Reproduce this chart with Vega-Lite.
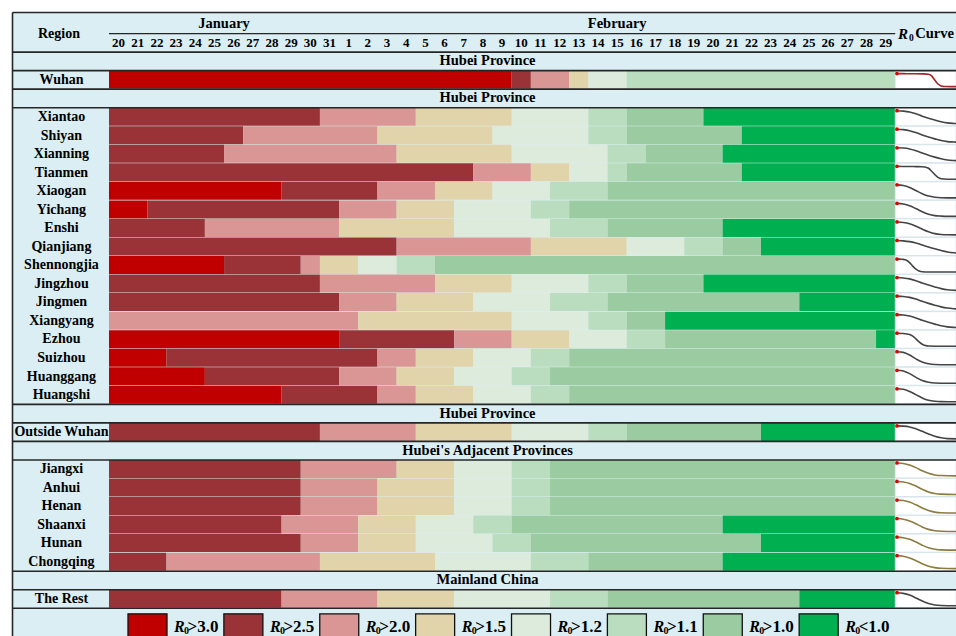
{
  "$schema": "https://vega.github.io/schema/vega-lite/v6.json",
  "width": 944,
  "height": 624,
  "autosize": {"type": "none"},
  "padding": {"left": 12, "top": 12, "right": 0, "bottom": 0},
  "background": "white",
  "config": {
    "view": {"stroke": null, "fill": "#DAEEF3"},
    "axis": {"grid": false, "labels": false, "ticks": false, "domainColor": "#262626", "domainWidth": 1.6},
    "text": {"font": "Liberation Serif", "fontWeight": "bold", "fontSize": 14, "color": "#000000"}
  },
  "datasets": {
    "regions": [
      {"row": "Wuhan", "group": "Wuhan"},
      {"row": "Xiantao", "group": "Hubei"},
      {"row": "Shiyan", "group": "Hubei"},
      {"row": "Xianning", "group": "Hubei"},
      {"row": "Tianmen", "group": "Hubei"},
      {"row": "Xiaogan", "group": "Hubei"},
      {"row": "Yichang", "group": "Hubei"},
      {"row": "Enshi", "group": "Hubei"},
      {"row": "Qianjiang", "group": "Hubei"},
      {"row": "Shennongjia", "group": "Hubei"},
      {"row": "Jingzhou", "group": "Hubei"},
      {"row": "Jingmen", "group": "Hubei"},
      {"row": "Xiangyang", "group": "Hubei"},
      {"row": "Ezhou", "group": "Hubei"},
      {"row": "Suizhou", "group": "Hubei"},
      {"row": "Huanggang", "group": "Hubei"},
      {"row": "Huangshi", "group": "Hubei"},
      {"row": "Outside Wuhan", "group": "Hubei"},
      {"row": "Jiangxi", "group": "Adjacent"},
      {"row": "Anhui", "group": "Adjacent"},
      {"row": "Henan", "group": "Adjacent"},
      {"row": "Shaanxi", "group": "Adjacent"},
      {"row": "Hunan", "group": "Adjacent"},
      {"row": "Chongqing", "group": "Adjacent"},
      {"row": "The Rest", "group": "Mainland"}
    ],
    "sections": [
      {"row": "sec1", "title": "Hubei Province"},
      {"row": "sec2", "title": "Hubei Province"},
      {"row": "sec3", "title": "Hubei Province"},
      {"row": "sec4", "title": "Hubei's Adjacent Provinces"},
      {"row": "sec5", "title": "Mainland China"}
    ],
    "levels": [
      {"level": ">3.0"}, {"level": ">2.5"}, {"level": ">2.0"}, {"level": ">1.5"},
      {"level": ">1.2"}, {"level": ">1.1"}, {"level": ">1.0"}, {"level": "<1.0"}
    ],
    "days": [
      {"day": 0, "label": "20", "month": "January"}, {"day": 1, "label": "21", "month": "January"},
      {"day": 2, "label": "22", "month": "January"}, {"day": 3, "label": "23", "month": "January"},
      {"day": 4, "label": "24", "month": "January"}, {"day": 5, "label": "25", "month": "January"},
      {"day": 6, "label": "26", "month": "January"}, {"day": 7, "label": "27", "month": "January"},
      {"day": 8, "label": "28", "month": "January"}, {"day": 9, "label": "29", "month": "January"},
      {"day": 10, "label": "30", "month": "January"}, {"day": 11, "label": "31", "month": "January"},
      {"day": 12, "label": "1", "month": "February"}, {"day": 13, "label": "2", "month": "February"},
      {"day": 14, "label": "3", "month": "February"}, {"day": 15, "label": "4", "month": "February"},
      {"day": 16, "label": "5", "month": "February"}, {"day": 17, "label": "6", "month": "February"},
      {"day": 18, "label": "7", "month": "February"}, {"day": 19, "label": "8", "month": "February"},
      {"day": 20, "label": "9", "month": "February"}, {"day": 21, "label": "10", "month": "February"},
      {"day": 22, "label": "11", "month": "February"}, {"day": 23, "label": "12", "month": "February"},
      {"day": 24, "label": "13", "month": "February"}, {"day": 25, "label": "14", "month": "February"},
      {"day": 26, "label": "15", "month": "February"}, {"day": 27, "label": "16", "month": "February"},
      {"day": 28, "label": "17", "month": "February"}, {"day": 29, "label": "18", "month": "February"},
      {"day": 30, "label": "19", "month": "February"}, {"day": 31, "label": "20", "month": "February"},
      {"day": 32, "label": "21", "month": "February"}, {"day": 33, "label": "22", "month": "February"},
      {"day": 34, "label": "23", "month": "February"}, {"day": 35, "label": "24", "month": "February"},
      {"day": 36, "label": "25", "month": "February"}, {"day": 37, "label": "26", "month": "February"},
      {"day": 38, "label": "27", "month": "February"}, {"day": 39, "label": "28", "month": "February"},
      {"day": 40, "label": "29", "month": "February"}
    ],
    "cells": [
      {"row": "Wuhan", "start": 0, "end": 21, "level": ">3.0"},
      {"row": "Wuhan", "start": 21, "end": 22, "level": ">2.5"},
      {"row": "Wuhan", "start": 22, "end": 24, "level": ">2.0"},
      {"row": "Wuhan", "start": 24, "end": 25, "level": ">1.5"},
      {"row": "Wuhan", "start": 25, "end": 27, "level": ">1.2"},
      {"row": "Wuhan", "start": 27, "end": 41, "level": ">1.1"},
      {"row": "Xiantao", "start": 0, "end": 11, "level": ">2.5"},
      {"row": "Xiantao", "start": 11, "end": 16, "level": ">2.0"},
      {"row": "Xiantao", "start": 16, "end": 21, "level": ">1.5"},
      {"row": "Xiantao", "start": 21, "end": 25, "level": ">1.2"},
      {"row": "Xiantao", "start": 25, "end": 27, "level": ">1.1"},
      {"row": "Xiantao", "start": 27, "end": 31, "level": ">1.0"},
      {"row": "Xiantao", "start": 31, "end": 41, "level": "<1.0"},
      {"row": "Shiyan", "start": 0, "end": 7, "level": ">2.5"},
      {"row": "Shiyan", "start": 7, "end": 14, "level": ">2.0"},
      {"row": "Shiyan", "start": 14, "end": 20, "level": ">1.5"},
      {"row": "Shiyan", "start": 20, "end": 25, "level": ">1.2"},
      {"row": "Shiyan", "start": 25, "end": 27, "level": ">1.1"},
      {"row": "Shiyan", "start": 27, "end": 33, "level": ">1.0"},
      {"row": "Shiyan", "start": 33, "end": 41, "level": "<1.0"},
      {"row": "Xianning", "start": 0, "end": 6, "level": ">2.5"},
      {"row": "Xianning", "start": 6, "end": 15, "level": ">2.0"},
      {"row": "Xianning", "start": 15, "end": 21, "level": ">1.5"},
      {"row": "Xianning", "start": 21, "end": 26, "level": ">1.2"},
      {"row": "Xianning", "start": 26, "end": 28, "level": ">1.1"},
      {"row": "Xianning", "start": 28, "end": 32, "level": ">1.0"},
      {"row": "Xianning", "start": 32, "end": 41, "level": "<1.0"},
      {"row": "Tianmen", "start": 0, "end": 19, "level": ">2.5"},
      {"row": "Tianmen", "start": 19, "end": 22, "level": ">2.0"},
      {"row": "Tianmen", "start": 22, "end": 24, "level": ">1.5"},
      {"row": "Tianmen", "start": 24, "end": 26, "level": ">1.2"},
      {"row": "Tianmen", "start": 26, "end": 27, "level": ">1.1"},
      {"row": "Tianmen", "start": 27, "end": 33, "level": ">1.0"},
      {"row": "Tianmen", "start": 33, "end": 41, "level": "<1.0"},
      {"row": "Xiaogan", "start": 0, "end": 9, "level": ">3.0"},
      {"row": "Xiaogan", "start": 9, "end": 14, "level": ">2.5"},
      {"row": "Xiaogan", "start": 14, "end": 17, "level": ">2.0"},
      {"row": "Xiaogan", "start": 17, "end": 20, "level": ">1.5"},
      {"row": "Xiaogan", "start": 20, "end": 23, "level": ">1.2"},
      {"row": "Xiaogan", "start": 23, "end": 26, "level": ">1.1"},
      {"row": "Xiaogan", "start": 26, "end": 41, "level": ">1.0"},
      {"row": "Yichang", "start": 0, "end": 2, "level": ">3.0"},
      {"row": "Yichang", "start": 2, "end": 12, "level": ">2.5"},
      {"row": "Yichang", "start": 12, "end": 15, "level": ">2.0"},
      {"row": "Yichang", "start": 15, "end": 18, "level": ">1.5"},
      {"row": "Yichang", "start": 18, "end": 22, "level": ">1.2"},
      {"row": "Yichang", "start": 22, "end": 24, "level": ">1.1"},
      {"row": "Yichang", "start": 24, "end": 41, "level": ">1.0"},
      {"row": "Enshi", "start": 0, "end": 5, "level": ">2.5"},
      {"row": "Enshi", "start": 5, "end": 12, "level": ">2.0"},
      {"row": "Enshi", "start": 12, "end": 18, "level": ">1.5"},
      {"row": "Enshi", "start": 18, "end": 23, "level": ">1.2"},
      {"row": "Enshi", "start": 23, "end": 26, "level": ">1.1"},
      {"row": "Enshi", "start": 26, "end": 32, "level": ">1.0"},
      {"row": "Enshi", "start": 32, "end": 41, "level": "<1.0"},
      {"row": "Qianjiang", "start": 0, "end": 15, "level": ">2.5"},
      {"row": "Qianjiang", "start": 15, "end": 22, "level": ">2.0"},
      {"row": "Qianjiang", "start": 22, "end": 27, "level": ">1.5"},
      {"row": "Qianjiang", "start": 27, "end": 30, "level": ">1.2"},
      {"row": "Qianjiang", "start": 30, "end": 32, "level": ">1.1"},
      {"row": "Qianjiang", "start": 32, "end": 34, "level": ">1.0"},
      {"row": "Qianjiang", "start": 34, "end": 41, "level": "<1.0"},
      {"row": "Shennongjia", "start": 0, "end": 6, "level": ">3.0"},
      {"row": "Shennongjia", "start": 6, "end": 10, "level": ">2.5"},
      {"row": "Shennongjia", "start": 10, "end": 11, "level": ">2.0"},
      {"row": "Shennongjia", "start": 11, "end": 13, "level": ">1.5"},
      {"row": "Shennongjia", "start": 13, "end": 15, "level": ">1.2"},
      {"row": "Shennongjia", "start": 15, "end": 17, "level": ">1.1"},
      {"row": "Shennongjia", "start": 17, "end": 41, "level": ">1.0"},
      {"row": "Jingzhou", "start": 0, "end": 11, "level": ">2.5"},
      {"row": "Jingzhou", "start": 11, "end": 17, "level": ">2.0"},
      {"row": "Jingzhou", "start": 17, "end": 21, "level": ">1.5"},
      {"row": "Jingzhou", "start": 21, "end": 25, "level": ">1.2"},
      {"row": "Jingzhou", "start": 25, "end": 27, "level": ">1.1"},
      {"row": "Jingzhou", "start": 27, "end": 31, "level": ">1.0"},
      {"row": "Jingzhou", "start": 31, "end": 41, "level": "<1.0"},
      {"row": "Jingmen", "start": 0, "end": 12, "level": ">2.5"},
      {"row": "Jingmen", "start": 12, "end": 15, "level": ">2.0"},
      {"row": "Jingmen", "start": 15, "end": 19, "level": ">1.5"},
      {"row": "Jingmen", "start": 19, "end": 23, "level": ">1.2"},
      {"row": "Jingmen", "start": 23, "end": 26, "level": ">1.1"},
      {"row": "Jingmen", "start": 26, "end": 36, "level": ">1.0"},
      {"row": "Jingmen", "start": 36, "end": 41, "level": "<1.0"},
      {"row": "Xiangyang", "start": 0, "end": 13, "level": ">2.0"},
      {"row": "Xiangyang", "start": 13, "end": 21, "level": ">1.5"},
      {"row": "Xiangyang", "start": 21, "end": 25, "level": ">1.2"},
      {"row": "Xiangyang", "start": 25, "end": 27, "level": ">1.1"},
      {"row": "Xiangyang", "start": 27, "end": 29, "level": ">1.0"},
      {"row": "Xiangyang", "start": 29, "end": 41, "level": "<1.0"},
      {"row": "Ezhou", "start": 0, "end": 12, "level": ">3.0"},
      {"row": "Ezhou", "start": 12, "end": 18, "level": ">2.5"},
      {"row": "Ezhou", "start": 18, "end": 21, "level": ">2.0"},
      {"row": "Ezhou", "start": 21, "end": 24, "level": ">1.5"},
      {"row": "Ezhou", "start": 24, "end": 27, "level": ">1.2"},
      {"row": "Ezhou", "start": 27, "end": 29, "level": ">1.1"},
      {"row": "Ezhou", "start": 29, "end": 40, "level": ">1.0"},
      {"row": "Ezhou", "start": 40, "end": 41, "level": "<1.0"},
      {"row": "Suizhou", "start": 0, "end": 3, "level": ">3.0"},
      {"row": "Suizhou", "start": 3, "end": 14, "level": ">2.5"},
      {"row": "Suizhou", "start": 14, "end": 16, "level": ">2.0"},
      {"row": "Suizhou", "start": 16, "end": 19, "level": ">1.5"},
      {"row": "Suizhou", "start": 19, "end": 22, "level": ">1.2"},
      {"row": "Suizhou", "start": 22, "end": 24, "level": ">1.1"},
      {"row": "Suizhou", "start": 24, "end": 41, "level": ">1.0"},
      {"row": "Huanggang", "start": 0, "end": 5, "level": ">3.0"},
      {"row": "Huanggang", "start": 5, "end": 12, "level": ">2.5"},
      {"row": "Huanggang", "start": 12, "end": 15, "level": ">2.0"},
      {"row": "Huanggang", "start": 15, "end": 18, "level": ">1.5"},
      {"row": "Huanggang", "start": 18, "end": 21, "level": ">1.2"},
      {"row": "Huanggang", "start": 21, "end": 23, "level": ">1.1"},
      {"row": "Huanggang", "start": 23, "end": 41, "level": ">1.0"},
      {"row": "Huangshi", "start": 0, "end": 9, "level": ">3.0"},
      {"row": "Huangshi", "start": 9, "end": 14, "level": ">2.5"},
      {"row": "Huangshi", "start": 14, "end": 16, "level": ">2.0"},
      {"row": "Huangshi", "start": 16, "end": 19, "level": ">1.5"},
      {"row": "Huangshi", "start": 19, "end": 22, "level": ">1.2"},
      {"row": "Huangshi", "start": 22, "end": 24, "level": ">1.1"},
      {"row": "Huangshi", "start": 24, "end": 41, "level": ">1.0"},
      {"row": "Outside Wuhan", "start": 0, "end": 11, "level": ">2.5"},
      {"row": "Outside Wuhan", "start": 11, "end": 16, "level": ">2.0"},
      {"row": "Outside Wuhan", "start": 16, "end": 21, "level": ">1.5"},
      {"row": "Outside Wuhan", "start": 21, "end": 25, "level": ">1.2"},
      {"row": "Outside Wuhan", "start": 25, "end": 27, "level": ">1.1"},
      {"row": "Outside Wuhan", "start": 27, "end": 34, "level": ">1.0"},
      {"row": "Outside Wuhan", "start": 34, "end": 41, "level": "<1.0"},
      {"row": "Jiangxi", "start": 0, "end": 10, "level": ">2.5"},
      {"row": "Jiangxi", "start": 10, "end": 15, "level": ">2.0"},
      {"row": "Jiangxi", "start": 15, "end": 18, "level": ">1.5"},
      {"row": "Jiangxi", "start": 18, "end": 21, "level": ">1.2"},
      {"row": "Jiangxi", "start": 21, "end": 23, "level": ">1.1"},
      {"row": "Jiangxi", "start": 23, "end": 41, "level": ">1.0"},
      {"row": "Anhui", "start": 0, "end": 10, "level": ">2.5"},
      {"row": "Anhui", "start": 10, "end": 14, "level": ">2.0"},
      {"row": "Anhui", "start": 14, "end": 18, "level": ">1.5"},
      {"row": "Anhui", "start": 18, "end": 21, "level": ">1.2"},
      {"row": "Anhui", "start": 21, "end": 23, "level": ">1.1"},
      {"row": "Anhui", "start": 23, "end": 41, "level": ">1.0"},
      {"row": "Henan", "start": 0, "end": 10, "level": ">2.5"},
      {"row": "Henan", "start": 10, "end": 14, "level": ">2.0"},
      {"row": "Henan", "start": 14, "end": 18, "level": ">1.5"},
      {"row": "Henan", "start": 18, "end": 21, "level": ">1.2"},
      {"row": "Henan", "start": 21, "end": 23, "level": ">1.1"},
      {"row": "Henan", "start": 23, "end": 41, "level": ">1.0"},
      {"row": "Shaanxi", "start": 0, "end": 9, "level": ">2.5"},
      {"row": "Shaanxi", "start": 9, "end": 13, "level": ">2.0"},
      {"row": "Shaanxi", "start": 13, "end": 16, "level": ">1.5"},
      {"row": "Shaanxi", "start": 16, "end": 19, "level": ">1.2"},
      {"row": "Shaanxi", "start": 19, "end": 21, "level": ">1.1"},
      {"row": "Shaanxi", "start": 21, "end": 32, "level": ">1.0"},
      {"row": "Shaanxi", "start": 32, "end": 41, "level": "<1.0"},
      {"row": "Hunan", "start": 0, "end": 10, "level": ">2.5"},
      {"row": "Hunan", "start": 10, "end": 13, "level": ">2.0"},
      {"row": "Hunan", "start": 13, "end": 16, "level": ">1.5"},
      {"row": "Hunan", "start": 16, "end": 20, "level": ">1.2"},
      {"row": "Hunan", "start": 20, "end": 22, "level": ">1.1"},
      {"row": "Hunan", "start": 22, "end": 34, "level": ">1.0"},
      {"row": "Hunan", "start": 34, "end": 41, "level": "<1.0"},
      {"row": "Chongqing", "start": 0, "end": 3, "level": ">2.5"},
      {"row": "Chongqing", "start": 3, "end": 11, "level": ">2.0"},
      {"row": "Chongqing", "start": 11, "end": 17, "level": ">1.5"},
      {"row": "Chongqing", "start": 17, "end": 22, "level": ">1.2"},
      {"row": "Chongqing", "start": 22, "end": 25, "level": ">1.1"},
      {"row": "Chongqing", "start": 25, "end": 32, "level": ">1.0"},
      {"row": "Chongqing", "start": 32, "end": 41, "level": "<1.0"},
      {"row": "The Rest", "start": 0, "end": 9, "level": ">2.5"},
      {"row": "The Rest", "start": 9, "end": 14, "level": ">2.0"},
      {"row": "The Rest", "start": 14, "end": 18, "level": ">1.5"},
      {"row": "The Rest", "start": 18, "end": 23, "level": ">1.2"},
      {"row": "The Rest", "start": 23, "end": 26, "level": ">1.1"},
      {"row": "The Rest", "start": 26, "end": 36, "level": ">1.0"},
      {"row": "The Rest", "start": 36, "end": 41, "level": "<1.0"}
    ],
    "curves": [
      {"row": "Wuhan", "day": 0, "v": 1}, {"row": "Wuhan", "day": 4, "v": 1}, {"row": "Wuhan", "day": 8, "v": 0.99}, {"row": "Wuhan", "day": 12, "v": 0.99}, {"row": "Wuhan", "day": 16, "v": 0.98}, {"row": "Wuhan", "day": 20, "v": 0.95}, {"row": "Wuhan", "day": 22, "v": 0.82}, {"row": "Wuhan", "day": 24, "v": 0.5}, {"row": "Wuhan", "day": 26, "v": 0.2}, {"row": "Wuhan", "day": 28, "v": 0.05}, {"row": "Wuhan", "day": 30, "v": 0.01}, {"row": "Wuhan", "day": 34, "v": 0}, {"row": "Wuhan", "day": 40, "v": 0},
      {"row": "Xiantao", "day": 0, "v": 1}, {"row": "Xiantao", "day": 4, "v": 0.97}, {"row": "Xiantao", "day": 8, "v": 0.9}, {"row": "Xiantao", "day": 12, "v": 0.76}, {"row": "Xiantao", "day": 16, "v": 0.58}, {"row": "Xiantao", "day": 20, "v": 0.42}, {"row": "Xiantao", "day": 24, "v": 0.28}, {"row": "Xiantao", "day": 28, "v": 0.15}, {"row": "Xiantao", "day": 32, "v": 0.06}, {"row": "Xiantao", "day": 36, "v": 0.02}, {"row": "Xiantao", "day": 40, "v": 0},
      {"row": "Shiyan", "day": 0, "v": 1}, {"row": "Shiyan", "day": 4, "v": 0.97}, {"row": "Shiyan", "day": 8, "v": 0.89}, {"row": "Shiyan", "day": 12, "v": 0.74}, {"row": "Shiyan", "day": 16, "v": 0.56}, {"row": "Shiyan", "day": 20, "v": 0.4}, {"row": "Shiyan", "day": 24, "v": 0.26}, {"row": "Shiyan", "day": 28, "v": 0.13}, {"row": "Shiyan", "day": 32, "v": 0.05}, {"row": "Shiyan", "day": 36, "v": 0.02}, {"row": "Shiyan", "day": 40, "v": 0},
      {"row": "Xianning", "day": 0, "v": 1}, {"row": "Xianning", "day": 4, "v": 0.98}, {"row": "Xianning", "day": 8, "v": 0.91}, {"row": "Xianning", "day": 12, "v": 0.77}, {"row": "Xianning", "day": 16, "v": 0.6}, {"row": "Xianning", "day": 20, "v": 0.43}, {"row": "Xianning", "day": 24, "v": 0.28}, {"row": "Xianning", "day": 28, "v": 0.15}, {"row": "Xianning", "day": 32, "v": 0.06}, {"row": "Xianning", "day": 36, "v": 0.02}, {"row": "Xianning", "day": 40, "v": 0},
      {"row": "Tianmen", "day": 0, "v": 1}, {"row": "Tianmen", "day": 4, "v": 0.99}, {"row": "Tianmen", "day": 8, "v": 0.99}, {"row": "Tianmen", "day": 12, "v": 0.98}, {"row": "Tianmen", "day": 16, "v": 0.97}, {"row": "Tianmen", "day": 18, "v": 0.94}, {"row": "Tianmen", "day": 20, "v": 0.85}, {"row": "Tianmen", "day": 22, "v": 0.62}, {"row": "Tianmen", "day": 24, "v": 0.36}, {"row": "Tianmen", "day": 26, "v": 0.15}, {"row": "Tianmen", "day": 28, "v": 0.05}, {"row": "Tianmen", "day": 32, "v": 0.01}, {"row": "Tianmen", "day": 40, "v": 0},
      {"row": "Xiaogan", "day": 0, "v": 1}, {"row": "Xiaogan", "day": 4, "v": 0.95}, {"row": "Xiaogan", "day": 8, "v": 0.8}, {"row": "Xiaogan", "day": 12, "v": 0.56}, {"row": "Xiaogan", "day": 16, "v": 0.32}, {"row": "Xiaogan", "day": 20, "v": 0.14}, {"row": "Xiaogan", "day": 24, "v": 0.05}, {"row": "Xiaogan", "day": 28, "v": 0.01}, {"row": "Xiaogan", "day": 32, "v": 0}, {"row": "Xiaogan", "day": 40, "v": 0},
      {"row": "Yichang", "day": 0, "v": 1}, {"row": "Yichang", "day": 4, "v": 0.95}, {"row": "Yichang", "day": 8, "v": 0.82}, {"row": "Yichang", "day": 12, "v": 0.6}, {"row": "Yichang", "day": 16, "v": 0.36}, {"row": "Yichang", "day": 20, "v": 0.17}, {"row": "Yichang", "day": 24, "v": 0.06}, {"row": "Yichang", "day": 28, "v": 0.02}, {"row": "Yichang", "day": 32, "v": 0}, {"row": "Yichang", "day": 40, "v": 0},
      {"row": "Enshi", "day": 0, "v": 1}, {"row": "Enshi", "day": 4, "v": 0.96}, {"row": "Enshi", "day": 8, "v": 0.86}, {"row": "Enshi", "day": 12, "v": 0.67}, {"row": "Enshi", "day": 16, "v": 0.45}, {"row": "Enshi", "day": 20, "v": 0.25}, {"row": "Enshi", "day": 24, "v": 0.1}, {"row": "Enshi", "day": 28, "v": 0.03}, {"row": "Enshi", "day": 32, "v": 0.01}, {"row": "Enshi", "day": 40, "v": 0},
      {"row": "Qianjiang", "day": 0, "v": 1}, {"row": "Qianjiang", "day": 4, "v": 0.97}, {"row": "Qianjiang", "day": 8, "v": 0.91}, {"row": "Qianjiang", "day": 12, "v": 0.8}, {"row": "Qianjiang", "day": 16, "v": 0.65}, {"row": "Qianjiang", "day": 20, "v": 0.5}, {"row": "Qianjiang", "day": 24, "v": 0.36}, {"row": "Qianjiang", "day": 28, "v": 0.23}, {"row": "Qianjiang", "day": 32, "v": 0.12}, {"row": "Qianjiang", "day": 36, "v": 0.05}, {"row": "Qianjiang", "day": 40, "v": 0.01},
      {"row": "Shennongjia", "day": 0, "v": 1}, {"row": "Shennongjia", "day": 2, "v": 0.99}, {"row": "Shennongjia", "day": 4, "v": 0.97}, {"row": "Shennongjia", "day": 6, "v": 0.9}, {"row": "Shennongjia", "day": 8, "v": 0.72}, {"row": "Shennongjia", "day": 10, "v": 0.45}, {"row": "Shennongjia", "day": 12, "v": 0.22}, {"row": "Shennongjia", "day": 14, "v": 0.08}, {"row": "Shennongjia", "day": 16, "v": 0.02}, {"row": "Shennongjia", "day": 20, "v": 0}, {"row": "Shennongjia", "day": 28, "v": 0}, {"row": "Shennongjia", "day": 40, "v": 0},
      {"row": "Jingzhou", "day": 0, "v": 1}, {"row": "Jingzhou", "day": 4, "v": 0.97}, {"row": "Jingzhou", "day": 8, "v": 0.9}, {"row": "Jingzhou", "day": 12, "v": 0.76}, {"row": "Jingzhou", "day": 16, "v": 0.58}, {"row": "Jingzhou", "day": 20, "v": 0.42}, {"row": "Jingzhou", "day": 24, "v": 0.28}, {"row": "Jingzhou", "day": 28, "v": 0.15}, {"row": "Jingzhou", "day": 32, "v": 0.06}, {"row": "Jingzhou", "day": 36, "v": 0.02}, {"row": "Jingzhou", "day": 40, "v": 0},
      {"row": "Jingmen", "day": 0, "v": 1}, {"row": "Jingmen", "day": 4, "v": 0.97}, {"row": "Jingmen", "day": 8, "v": 0.9}, {"row": "Jingmen", "day": 12, "v": 0.77}, {"row": "Jingmen", "day": 16, "v": 0.6}, {"row": "Jingmen", "day": 20, "v": 0.44}, {"row": "Jingmen", "day": 24, "v": 0.3}, {"row": "Jingmen", "day": 28, "v": 0.17}, {"row": "Jingmen", "day": 32, "v": 0.08}, {"row": "Jingmen", "day": 36, "v": 0.03}, {"row": "Jingmen", "day": 40, "v": 0},
      {"row": "Xiangyang", "day": 0, "v": 1}, {"row": "Xiangyang", "day": 4, "v": 0.97}, {"row": "Xiangyang", "day": 8, "v": 0.89}, {"row": "Xiangyang", "day": 12, "v": 0.75}, {"row": "Xiangyang", "day": 16, "v": 0.57}, {"row": "Xiangyang", "day": 20, "v": 0.41}, {"row": "Xiangyang", "day": 24, "v": 0.27}, {"row": "Xiangyang", "day": 28, "v": 0.14}, {"row": "Xiangyang", "day": 32, "v": 0.06}, {"row": "Xiangyang", "day": 36, "v": 0.02}, {"row": "Xiangyang", "day": 40, "v": 0},
      {"row": "Ezhou", "day": 0, "v": 1}, {"row": "Ezhou", "day": 4, "v": 0.98}, {"row": "Ezhou", "day": 8, "v": 0.9}, {"row": "Ezhou", "day": 10, "v": 0.78}, {"row": "Ezhou", "day": 12, "v": 0.56}, {"row": "Ezhou", "day": 14, "v": 0.33}, {"row": "Ezhou", "day": 16, "v": 0.15}, {"row": "Ezhou", "day": 18, "v": 0.05}, {"row": "Ezhou", "day": 20, "v": 0.01}, {"row": "Ezhou", "day": 24, "v": 0}, {"row": "Ezhou", "day": 32, "v": 0}, {"row": "Ezhou", "day": 40, "v": 0},
      {"row": "Suizhou", "day": 0, "v": 1}, {"row": "Suizhou", "day": 4, "v": 0.95}, {"row": "Suizhou", "day": 8, "v": 0.75}, {"row": "Suizhou", "day": 12, "v": 0.45}, {"row": "Suizhou", "day": 16, "v": 0.2}, {"row": "Suizhou", "day": 20, "v": 0.07}, {"row": "Suizhou", "day": 24, "v": 0.02}, {"row": "Suizhou", "day": 32, "v": 0}, {"row": "Suizhou", "day": 40, "v": 0},
      {"row": "Huanggang", "day": 0, "v": 1}, {"row": "Huanggang", "day": 4, "v": 0.94}, {"row": "Huanggang", "day": 8, "v": 0.74}, {"row": "Huanggang", "day": 12, "v": 0.45}, {"row": "Huanggang", "day": 16, "v": 0.21}, {"row": "Huanggang", "day": 20, "v": 0.08}, {"row": "Huanggang", "day": 24, "v": 0.02}, {"row": "Huanggang", "day": 32, "v": 0}, {"row": "Huanggang", "day": 40, "v": 0},
      {"row": "Huangshi", "day": 0, "v": 1}, {"row": "Huangshi", "day": 4, "v": 0.96}, {"row": "Huangshi", "day": 8, "v": 0.8}, {"row": "Huangshi", "day": 12, "v": 0.55}, {"row": "Huangshi", "day": 16, "v": 0.3}, {"row": "Huangshi", "day": 20, "v": 0.12}, {"row": "Huangshi", "day": 24, "v": 0.04}, {"row": "Huangshi", "day": 28, "v": 0.01}, {"row": "Huangshi", "day": 40, "v": 0},
      {"row": "Outside Wuhan", "day": 0, "v": 1}, {"row": "Outside Wuhan", "day": 4, "v": 0.98}, {"row": "Outside Wuhan", "day": 8, "v": 0.92}, {"row": "Outside Wuhan", "day": 12, "v": 0.78}, {"row": "Outside Wuhan", "day": 16, "v": 0.58}, {"row": "Outside Wuhan", "day": 20, "v": 0.38}, {"row": "Outside Wuhan", "day": 24, "v": 0.2}, {"row": "Outside Wuhan", "day": 28, "v": 0.08}, {"row": "Outside Wuhan", "day": 32, "v": 0.02}, {"row": "Outside Wuhan", "day": 40, "v": 0},
      {"row": "Jiangxi", "day": 0, "v": 1}, {"row": "Jiangxi", "day": 4, "v": 0.96}, {"row": "Jiangxi", "day": 8, "v": 0.84}, {"row": "Jiangxi", "day": 12, "v": 0.64}, {"row": "Jiangxi", "day": 16, "v": 0.4}, {"row": "Jiangxi", "day": 20, "v": 0.2}, {"row": "Jiangxi", "day": 24, "v": 0.08}, {"row": "Jiangxi", "day": 28, "v": 0.03}, {"row": "Jiangxi", "day": 40, "v": 0},
      {"row": "Anhui", "day": 0, "v": 1}, {"row": "Anhui", "day": 4, "v": 0.96}, {"row": "Anhui", "day": 8, "v": 0.85}, {"row": "Anhui", "day": 12, "v": 0.65}, {"row": "Anhui", "day": 16, "v": 0.41}, {"row": "Anhui", "day": 20, "v": 0.2}, {"row": "Anhui", "day": 24, "v": 0.08}, {"row": "Anhui", "day": 28, "v": 0.03}, {"row": "Anhui", "day": 40, "v": 0},
      {"row": "Henan", "day": 0, "v": 1}, {"row": "Henan", "day": 4, "v": 0.96}, {"row": "Henan", "day": 8, "v": 0.84}, {"row": "Henan", "day": 12, "v": 0.63}, {"row": "Henan", "day": 16, "v": 0.39}, {"row": "Henan", "day": 20, "v": 0.19}, {"row": "Henan", "day": 24, "v": 0.07}, {"row": "Henan", "day": 28, "v": 0.02}, {"row": "Henan", "day": 40, "v": 0},
      {"row": "Shaanxi", "day": 0, "v": 1}, {"row": "Shaanxi", "day": 4, "v": 0.95}, {"row": "Shaanxi", "day": 8, "v": 0.82}, {"row": "Shaanxi", "day": 12, "v": 0.6}, {"row": "Shaanxi", "day": 16, "v": 0.36}, {"row": "Shaanxi", "day": 20, "v": 0.17}, {"row": "Shaanxi", "day": 24, "v": 0.06}, {"row": "Shaanxi", "day": 28, "v": 0.02}, {"row": "Shaanxi", "day": 40, "v": 0},
      {"row": "Hunan", "day": 0, "v": 1}, {"row": "Hunan", "day": 4, "v": 0.95}, {"row": "Hunan", "day": 8, "v": 0.83}, {"row": "Hunan", "day": 12, "v": 0.62}, {"row": "Hunan", "day": 16, "v": 0.38}, {"row": "Hunan", "day": 20, "v": 0.18}, {"row": "Hunan", "day": 24, "v": 0.07}, {"row": "Hunan", "day": 28, "v": 0.02}, {"row": "Hunan", "day": 40, "v": 0},
      {"row": "Chongqing", "day": 0, "v": 1}, {"row": "Chongqing", "day": 4, "v": 0.95}, {"row": "Chongqing", "day": 8, "v": 0.82}, {"row": "Chongqing", "day": 12, "v": 0.61}, {"row": "Chongqing", "day": 16, "v": 0.38}, {"row": "Chongqing", "day": 20, "v": 0.19}, {"row": "Chongqing", "day": 24, "v": 0.08}, {"row": "Chongqing", "day": 28, "v": 0.03}, {"row": "Chongqing", "day": 40, "v": 0},
      {"row": "The Rest", "day": 0, "v": 1}, {"row": "The Rest", "day": 4, "v": 0.95}, {"row": "The Rest", "day": 8, "v": 0.82}, {"row": "The Rest", "day": 12, "v": 0.6}, {"row": "The Rest", "day": 16, "v": 0.36}, {"row": "The Rest", "day": 20, "v": 0.17}, {"row": "The Rest", "day": 24, "v": 0.06}, {"row": "The Rest", "day": 28, "v": 0.02}, {"row": "The Rest", "day": 40, "v": 0}
    ]
  },
  "resolve": {"scale": {"x": "independent", "color": "independent"}},
  "layer": [
    {
      "layer": [
        {
          "data": {"name": "cells"},
          "mark": {"type": "rect"},
          "encoding": {
            "x": {
              "field": "start", "type": "quantitative",
              "scale": {"domain": [-5.058, 44.17], "nice": false, "zero": false},
              "axis": {"orient": "top", "title": null, "labels": false, "ticks": false, "grid": false, "domainColor": "#262626", "domainWidth": 1.6}
            },
            "x2": {"field": "end"},
            "y": {
              "field": "row", "type": "ordinal",
              "scale": {
                "type": "band",
                "domain": ["hdrMonth", "hdrDay", "sec1", "Wuhan", "sec2", "Xiantao", "Shiyan", "Xianning", "Tianmen", "Xiaogan", "Yichang", "Enshi", "Qianjiang", "Shennongjia", "Jingzhou", "Jingmen", "Xiangyang", "Ezhou", "Suizhou", "Huanggang", "Huangshi", "sec3", "Outside Wuhan", "sec4", "Jiangxi", "Anhui", "Henan", "Shaanxi", "Hunan", "Chongqing", "sec5", "The Rest", "legend"],
                "paddingInner": 0, "paddingOuter": 0.3285, "align": 0.246
              },
              "axis": {"title": null, "labels": false, "ticks": false, "grid": false, "domainColor": "#262626", "domainWidth": 1.6}
            },
            "color": {
              "field": "level", "type": "nominal",
              "scale": {
                "domain": [">3.0", ">2.5", ">2.0", ">1.5", ">1.2", ">1.1", ">1.0", "<1.0"],
                "range": ["#C00000", "#993337", "#DA9694", "#E2D4AA", "#DDEBDD", "#BADDBF", "#9BCBA1", "#00B050"]
              },
              "legend": null
            }
          }
        },
        {
          "data": {"name": "regions"},
          "mark": {"type": "rect", "fill": "#FFFFFF", "stroke": "#D3E2E8", "strokeWidth": 0.8},
          "encoding": {
            "x": {"datum": 41},
            "x2": {"datum": 44.17},
            "y": {"field": "row", "type": "ordinal"}
          }
        },
        {
          "data": {"name": "sections"},
          "mark": {"type": "rule", "color": "#262626", "strokeWidth": 1.6},
          "encoding": {"y": {"field": "row", "type": "ordinal", "bandPosition": 0}}
        },
        {
          "data": {"name": "sections"},
          "mark": {"type": "rule", "color": "#262626", "strokeWidth": 1.6},
          "encoding": {"y": {"field": "row", "type": "ordinal", "bandPosition": 1}}
        },
        {
          "data": {"values": [{}]},
          "mark": {"type": "rule", "color": "#262626", "strokeWidth": 1.6},
          "encoding": {"y": {"datum": "legend", "type": "ordinal", "bandPosition": 0}}
        },
        {
          "data": {"values": [{}]},
          "mark": {"type": "rule", "color": "#262626", "strokeWidth": 1.3},
          "encoding": {
            "x": {"datum": 0},
            "x2": {"datum": 41},
            "y": {"datum": "hdrDay", "type": "ordinal", "bandPosition": 0}
          }
        },
        {
          "data": {"name": "regions"},
          "mark": {"type": "text", "fontSize": 14},
          "encoding": {
            "x": {"datum": -2.48},
            "y": {"field": "row", "type": "ordinal"},
            "text": {"field": "row"}
          }
        },
        {
          "data": {"name": "sections"},
          "mark": {"type": "text", "fontSize": 14.5},
          "encoding": {
            "x": {"datum": 19.74},
            "y": {"field": "row", "type": "ordinal"},
            "text": {"field": "title"}
          }
        },
        {
          "data": {"name": "days"},
          "mark": {"type": "text", "fontSize": 13, "dx": 9.59},
          "encoding": {
            "x": {"field": "day", "type": "quantitative"},
            "y": {"datum": "hdrDay", "type": "ordinal"},
            "text": {"field": "label"}
          }
        },
        {
          "data": {"name": "days"},
          "mark": {"type": "text", "fontSize": 14.5, "dx": 9.59},
          "encoding": {
            "x": {"aggregate": "mean", "field": "day", "type": "quantitative"},
            "y": {"datum": "hdrMonth", "type": "ordinal"},
            "text": {"field": "month", "type": "nominal"}
          }
        },
        {
          "data": {"values": [{}]},
          "mark": {"type": "text", "text": "Region", "fontSize": 14},
          "encoding": {
            "x": {"datum": -2.61},
            "y": {"datum": "hdrDay", "type": "ordinal", "bandPosition": 0}
          }
        },
        {
          "data": {"values": [{}]},
          "mark": {"type": "text", "text": "R", "fontStyle": "italic", "align": "left", "fontSize": 15},
          "encoding": {
            "x": {"datum": 41.14},
            "y": {"datum": "hdrDay", "type": "ordinal", "bandPosition": 0}
          }
        },
        {
          "data": {"values": [{}]},
          "mark": {"type": "text", "text": "0", "align": "left", "fontSize": 9.5, "dy": 4},
          "encoding": {
            "x": {"datum": 41.72},
            "y": {"datum": "hdrDay", "type": "ordinal", "bandPosition": 0}
          }
        },
        {
          "data": {"values": [{}]},
          "mark": {"type": "text", "text": "Curve", "align": "left", "fontSize": 14.6},
          "encoding": {
            "x": {"datum": 42.04},
            "y": {"datum": "hdrDay", "type": "ordinal", "bandPosition": 0}
          }
        }
      ]
    },
    {
      "data": {"name": "curves"},
      "transform": [
        {"lookup": "row", "from": {"data": {"name": "regions"}, "key": "row", "fields": ["group"]}}
      ],
      "encoding": {
        "x": {"field": "day", "type": "quantitative", "scale": {"domain": [-561.9, 37.46], "nice": false, "zero": false}, "axis": null},
        "y": {"field": "row", "type": "ordinal", "bandPosition": 0},
        "yOffset": {"field": "v", "type": "quantitative", "scale": {"domain": [0, 1], "range": [16, 3]}}
      },
      "layer": [
        {
          "mark": {"type": "line", "interpolate": "monotone", "strokeWidth": 1.6},
          "encoding": {
            "color": {
              "field": "group", "type": "nominal",
              "scale": {"domain": ["Wuhan", "Hubei", "Adjacent", "Mainland"], "range": ["#A0262A", "#444444", "#8C7B40", "#444444"]},
              "legend": null
            },
            "detail": {"field": "row"}
          }
        },
        {
          "transform": [{"filter": "datum.day == 0"}],
          "mark": {"type": "point", "filled": true, "color": "#E00000", "size": 14, "opacity": 1}
        }
      ]
    },
    {
      "data": {"name": "levels"},
      "encoding": {
        "x": {
          "field": "level", "type": "nominal",
          "scale": {"type": "point", "domain": [">3.0", ">2.5", ">2.0", ">1.5", ">1.2", ">1.1", ">1.0", "<1.0", ""], "padding": 0.9228, "align": 0.7657},
          "axis": null
        },
        "y": {"datum": "legend", "type": "ordinal", "bandPosition": 1}
      },
      "layer": [
        {
          "mark": {"type": "point", "shape": "M-1,-0.667H1V0.667H-1Z", "size": 1521, "filled": true, "stroke": "#111111", "strokeWidth": 1.3, "opacity": 1},
          "encoding": {
            "fill": {
              "field": "level", "type": "nominal",
              "scale": {
                "domain": [">3.0", ">2.5", ">2.0", ">1.5", ">1.2", ">1.1", ">1.0", "<1.0"],
                "range": ["#C00000", "#993337", "#DA9694", "#E2D4AA", "#DDEBDD", "#BADDBF", "#9BCBA1", "#00B050"]
              },
              "legend": null
            }
          }
        },
        {"mark": {"type": "text", "text": "R", "fontStyle": "italic", "fontSize": 16, "align": "left", "dx": 26.5}},
        {"mark": {"type": "text", "text": "0", "fontSize": 10, "align": "left", "dx": 36.5, "dy": 4}},
        {
          "mark": {"type": "text", "fontSize": 17, "align": "left", "dx": 40},
          "encoding": {"text": {"field": "level"}}
        }
      ]
    }
  ]
}
